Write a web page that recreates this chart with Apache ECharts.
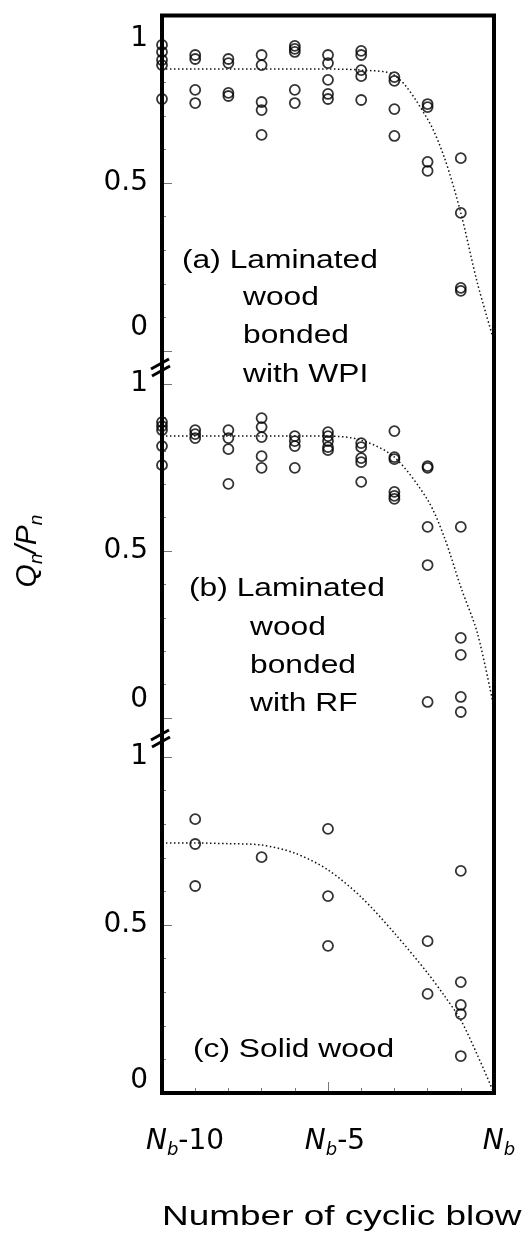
<!DOCTYPE html>
<html>
<head>
<meta charset="utf-8">
<script src="https://cdn.jsdelivr.net/npm/echarts@6/dist/echarts.min.js"></script>
<style>
  html, body { margin: 0; padding: 0; background: #fff; }
  #main { width: 522px; height: 1234px; }
</style>
</head>
<body>
<div id="main"></div>
<script>
  // blows before failure, one column of points per blow
  var blows = [-10, -9, -8, -7, -6, -5, -4, -3, -2, -1];

  // (a) laminated wood bonded with WPI
  var qpA = [
    [0.911, 0.890, 0.866, 0.851, 0.750],
    [0.881, 0.869, 0.777, 0.738],
    [0.869, 0.857, 0.768, 0.759],
    [0.881, 0.851, 0.741, 0.717, 0.643],
    [0.908, 0.899, 0.890, 0.777, 0.738],
    [0.881, 0.857, 0.807, 0.765, 0.750],
    [0.893, 0.881, 0.836, 0.818, 0.747],
    [0.815, 0.804, 0.720, 0.640],
    [0.735, 0.726, 0.563, 0.536],
    [0.574, 0.411, 0.188, 0.179]
  ];

  // (b) laminated wood bonded with RF
  var qpB = [
    [0.886, 0.874, 0.862, 0.814, 0.757],
    [0.862, 0.850, 0.838],
    [0.862, 0.838, 0.805, 0.701],
    [0.898, 0.871, 0.841, 0.784, 0.749],
    [0.844, 0.829, 0.814, 0.749],
    [0.856, 0.844, 0.829, 0.811, 0.802],
    [0.823, 0.811, 0.778, 0.766, 0.707],
    [0.859, 0.781, 0.775, 0.677, 0.665, 0.656],
    [0.754, 0.749, 0.572, 0.458, 0.048],
    [0.572, 0.240, 0.189, 0.063, 0.018]
  ];

  // (c) solid wood
  var qpC = [
    [],
    [0.815, 0.741, 0.616],
    [],
    [0.702],
    [],
    [0.786, 0.586, 0.438],
    [],
    [],
    [0.452, 0.295],
    [0.661, 0.330, 0.262, 0.235, 0.110]
  ];

  // dotted trend curves
  var fitX = [-10, -9, -8, -7, -6, -5, -4, -3, -2, -1.5, -1, -0.5, 0];
  var fitA = [0.839, 0.839, 0.839, 0.839, 0.839, 0.839, 0.836, 0.821, 0.690, 0.577, 0.411, 0.202, 0.030];
  var fitB = [0.844, 0.844, 0.844, 0.844, 0.844, 0.844, 0.832, 0.781, 0.653, 0.542, 0.392, 0.254, 0.030];
  var fitC = [0.744, 0.744, 0.742, 0.738, 0.714, 0.664, 0.583, 0.476, 0.357, 0.290, 0.217, 0.113, 0.000];

  var yTicks = [0, 0.5, 1];

  var labelFont = 'DejaVu Sans';
  var textFont = 'Liberation Sans';

  function points(cols) {
    var out = [];
    cols.forEach(function (col, i) {
      col.forEach(function (v) { out.push([blows[i], v]); });
    });
    return out;
  }

  function pairs(xs, ys) {
    return xs.map(function (x, i) { return [x, ys[i]]; });
  }

  function scatter(cols, idx) {
    return {
      type: 'scatter', xAxisIndex: idx, yAxisIndex: idx, clip: false,
      symbol: 'circle', symbolSize: 10,
      itemStyle: { color: 'rgba(0,0,0,0)', borderColor: '#000', borderWidth: 1.8 },
      data: points(cols)
    };
  }

  function curve(ys, idx) {
    return {
      type: 'line', xAxisIndex: idx, yAxisIndex: idx, clip: false,
      symbol: 'none', smooth: 0.3,
      lineStyle: { color: '#111', width: 1.5, type: [1.5, 2.5] },
      data: pairs(fitX, ys)
    };
  }

  // labels "0" and "1" sit a little off their ticks in the original
  function yAxis(idx, lh, fmt) {
    return {
      type: 'value', gridIndex: idx, min: yTicks[0], max: yTicks[2], interval: 0.5,
      axisLine: { show: false, onZero: false },
      splitLine: { show: false },
      axisTick: { inside: true, length: 10, lineStyle: { color: '#777', width: 1 } },
      minorTick: { show: true, splitNumber: 5, length: 4, lineStyle: { color: '#777', width: 1 } },
      axisLabel: { fontFamily: labelFont, fontSize: 28, color: '#000', margin: 14, lineHeight: lh, formatter: fmt }
    };
  }

  function xAxis(idx, visible) {
    return {
      type: 'value', gridIndex: idx, min: -10, max: 0, interval: 5,
      axisLine: { show: false, onZero: false },
      splitLine: { show: false },
      axisTick: { show: visible, inside: true, length: 11, lineStyle: { color: '#777', width: 1 } },
      minorTick: { show: visible, splitNumber: 5, length: 5, lineStyle: { color: '#777', width: 1 } },
      axisLabel: {
        show: visible, margin: 32, color: '#000',
        formatter: function (v) {
          if (v === -10) return '{p| }{i|N}{s|b}{t|-10}';
          if (v === -5) return '{q| }{i|N}{s|b}{t|-5}';
          return '{r| }{i|N}{s|b}';
        },
        rich: {
          p: { width: 46, fontSize: 10 },
          q: { width: 14, fontSize: 10 },
          r: { width: 10, fontSize: 10 },
          i: { fontFamily: labelFont, fontStyle: 'italic', fontSize: 28, lineHeight: 34, verticalAlign: 'middle' },
          s: { fontFamily: labelFont, fontStyle: 'italic', fontSize: 18, lineHeight: 18, verticalAlign: 'bottom' },
          t: { fontFamily: labelFont, fontSize: 28, lineHeight: 34, verticalAlign: 'middle' }
        }
      }
    };
  }

  function txt(x, y, s, size, sx) {
    return {
      type: 'text', x: x, y: y, scaleX: sx || 1.27, z: 50,
      style: { text: s, font: (size || 25) + 'px "' + textFont + '"', fill: '#000', textAlign: 'left', textVerticalAlign: 'middle' }
    };
  }

  function breakMark(cy) {
    return {
      type: 'group', z: 60,
      children: [
        { type: 'line', shape: { x1: 151, y1: cy + 2, x2: 169, y2: cy - 8 }, style: { stroke: '#000', lineWidth: 3 } },
        { type: 'line', shape: { x1: 152, y1: cy + 9, x2: 170, y2: cy - 1 }, style: { stroke: '#000', lineWidth: 3 } }
      ]
    };
  }

  var chart = echarts.init(document.getElementById('main'), null, { renderer: 'canvas' });

  var yA = yAxis(0, 47, function (v) {
    if (v === 1) return ' \n1';
    if (v === 0) return '0\n ';
    return String(v);
  });
  var yB = yAxis(1, 36, function (v) { return v === 0 ? '0\n ' : String(v); });
  var yC = yAxis(2, 24, function (v) { return v === 0 ? '0\n ' : String(v); });

  // shared axis title on the middle panel
  yB.name = '{i|Q}{s|n}{i|/P}{s|n}';
  yB.nameLocation = 'middle';
  yB.nameRotate = 90;
  yB.nameGap = 116;
  yB.nameTextStyle = {
    color: '#000',
    rich: {
      i: { fontFamily: textFont, fontStyle: 'italic', fontSize: 30, lineHeight: 36, verticalAlign: 'middle' },
      s: { fontFamily: textFont, fontStyle: 'italic', fontSize: 19, lineHeight: 19, verticalAlign: 'bottom' }
    }
  };

  var option = {
    animation: false,
    backgroundColor: '#fff',
    grid: [
      { left: 162, width: 332, top: 15, height: 336, outerBoundsMode: 'none' },
      { left: 162, width: 332, top: 384, height: 334, outerBoundsMode: 'none' },
      { left: 162, width: 332, top: 757, height: 336, outerBoundsMode: 'none' }
    ],
    xAxis: [xAxis(0, false), xAxis(1, false), xAxis(2, true)],
    yAxis: [yA, yB, yC],
    series: [
      curve(fitA, 0), scatter(qpA, 0),
      curve(fitB, 1), scatter(qpB, 1),
      curve(fitC, 2), scatter(qpC, 2)
    ],
    graphic: [
      { type: 'rect', z: 40, shape: { x: 162, y: 15.5, width: 332, height: 1077.5 },
        style: { fill: 'none', stroke: '#000', lineWidth: 4 } },
      breakMark(367),
      breakMark(738),
      txt(182, 261, '(a) Laminated'),
      txt(243, 298, 'wood'),
      txt(243, 336, 'bonded'),
      txt(243, 375, 'with WPI'),
      txt(189, 589, '(b) Laminated'),
      txt(250, 628, 'wood'),
      txt(250, 666, 'bonded'),
      txt(250, 704, 'with RF'),
      txt(193, 1050, '(c) Solid wood'),
      txt(162, 1217, 'Number of cyclic blows', 28, 1.32)
    ]
  };

  chart.setOption(option);
</script>
</body>
</html>
